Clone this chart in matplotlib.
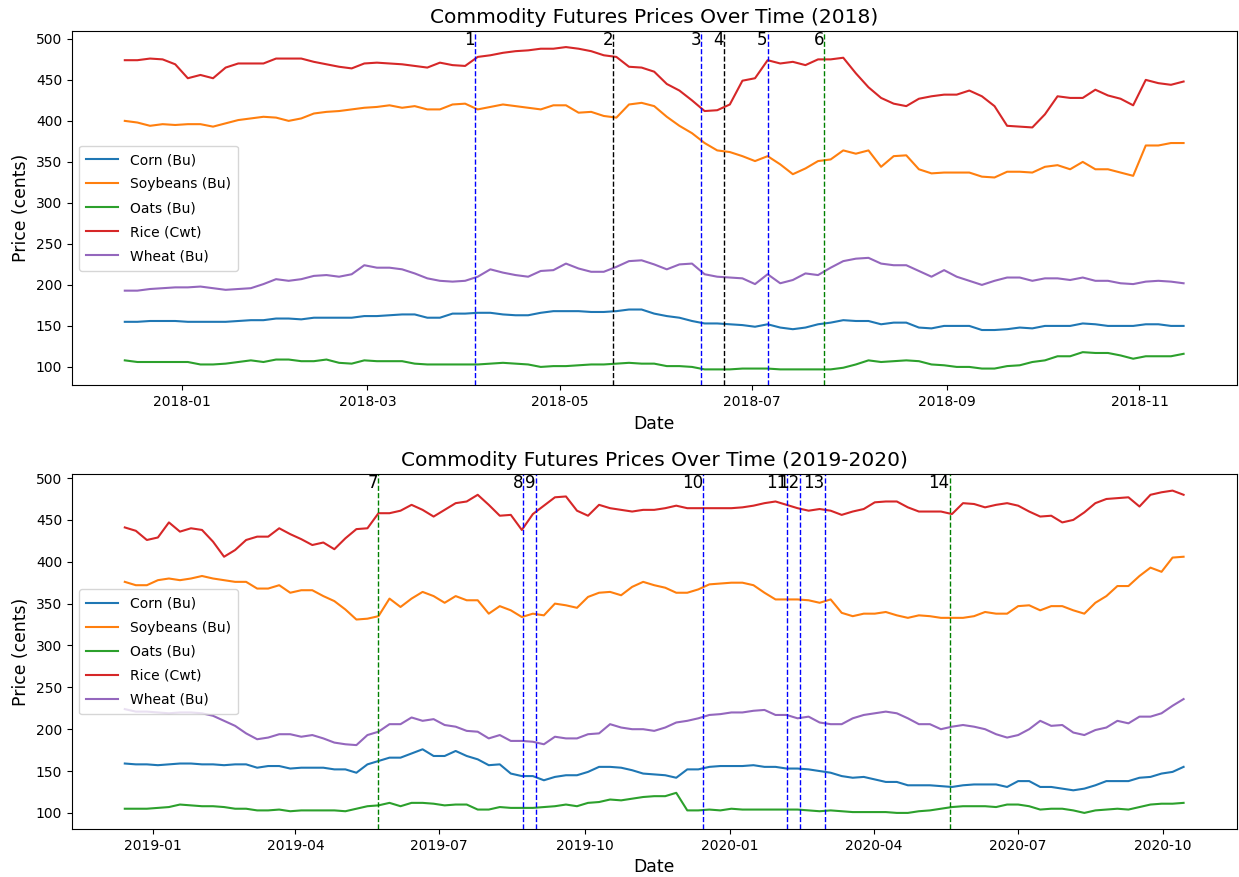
import matplotlib
matplotlib.use("Agg")
import matplotlib.pyplot as plt
import matplotlib.dates as mdates
import pandas as pd

# --- 2018 window: one reading every 4 days ---
dates_2018 = pd.date_range("2017-12-14", "2018-11-15", periods=85)

corn_2018 = [155, 155, 156, 156, 156, 155, 155, 155, 155, 156, 157, 157, 159, 159, 158, 160, 160, 160, 160, 162, 162,
             163, 164, 164, 160, 160, 165, 165, 166, 166, 164, 163, 163, 166, 168, 168, 168, 167, 167, 168, 170, 170,
             165, 162, 160, 156, 153, 153, 152, 151, 149, 152, 148, 146, 148, 152, 154, 157, 156, 156, 152, 154, 154,
             148, 147, 150, 150, 150, 145, 145, 146, 148, 147, 150, 150, 150, 153, 152, 150, 150, 150, 152, 152, 150,
             150]
soy_2018 = [400, 398, 394, 396, 395, 396, 396, 393, 397, 401, 403, 405, 404, 400, 403, 409, 411, 412, 414, 416, 417,
            419, 416, 418, 414, 414, 420, 421, 414, 417, 420, 418, 416, 414, 419, 419, 410, 411, 406, 404, 420, 422,
            418, 405, 394, 385, 373, 364, 362, 357, 351, 357, 347, 335, 342, 351, 353, 364, 360, 364, 344, 357, 358,
            341, 336, 337, 337, 337, 332, 331, 338, 338, 337, 344, 346, 341, 350, 341, 341, 337, 333, 370, 370, 373,
            373]
oats_2018 = [108, 106, 106, 106, 106, 106, 103, 103, 104, 106, 108, 106, 109, 109, 107, 107, 109, 105, 104, 108, 107,
             107, 107, 104, 103, 103, 103, 103, 103, 104, 105, 104, 103, 100, 101, 101, 102, 103, 103, 104, 105, 104,
             104, 101, 101, 100, 97, 97, 97, 98, 98, 98, 97, 97, 97, 97, 97, 99, 103, 108, 106, 107, 108, 107, 103,
             102, 100, 100, 98, 98, 101, 102, 106, 108, 113, 113, 118, 117, 117, 114, 110, 113, 113, 113, 116]
rice_2018 = [474, 474, 476, 475, 469, 452, 456, 452, 465, 470, 470, 470, 476, 476, 476, 472, 469, 466, 464, 470, 471,
             470, 469, 467, 465, 471, 468, 467, 478, 480, 483, 485, 486, 488, 488, 490, 488, 485, 480, 478, 466, 465,
             460, 445, 437, 425, 412, 413, 420, 449, 452, 474, 470, 472, 468, 475, 475, 477, 458, 441, 428, 421, 418,
             427, 430, 432, 432, 437, 430, 418, 394, 393, 392, 408, 430, 428, 428, 438, 431, 427, 419, 450, 446, 444,
             448]
wheat_2018 = [193, 193, 195, 196, 197, 197, 198, 196, 194, 195, 196, 201, 207, 205, 207, 211, 212, 210, 213, 224, 221,
              221, 219, 214, 208, 205, 204, 205, 210, 219, 215, 212, 210, 217, 218, 226, 220, 216, 216, 222, 229, 230,
              225, 219, 225, 226, 213, 210, 209, 208, 201, 213, 202, 206, 214, 212, 221, 229, 232, 233, 226, 224, 224,
              217, 210, 218, 210, 205, 200, 205, 209, 209, 205, 208, 208, 206, 209, 205, 205, 202, 201, 204, 205, 204,
              202]

# --- 2019-2020 window: roughly weekly readings ---
dates_1920 = pd.date_range("2018-12-14", "2020-10-14", periods=97)

corn_1920 = [159, 158, 158, 157, 158, 159, 159, 158, 158, 157, 158, 158, 154, 156, 156, 153, 154, 154, 154, 152, 152,
             148, 158, 162, 166, 166, 171, 176, 168, 168, 174, 168, 164, 157, 158, 147, 144, 144, 139, 143, 145, 145,
             149, 155, 155, 154, 151, 147, 146, 145, 142, 152, 152, 155, 156, 156, 156, 157, 155, 155, 153, 153, 152,
             150, 148, 144, 142, 143, 140, 137, 137, 133, 133, 133, 132, 131, 133, 134, 134, 134, 131, 138, 138, 131,
             131, 129, 127, 129, 133, 138, 138, 138, 142, 143, 147, 149, 155]
soy_1920 = [376, 372, 372, 378, 380, 378, 380, 383, 380, 378, 376, 376, 368, 368, 372, 363, 366, 366, 359, 353, 343,
            331, 332, 335, 356, 346, 356, 364, 359, 351, 359, 354, 354, 338, 347, 342, 334, 338, 336, 350, 348, 345,
            358, 363, 364, 360, 370, 376, 372, 369, 363, 363, 367, 373, 374, 375, 375, 372, 363, 355, 355, 355, 354,
            351, 355, 339, 335, 338, 338, 340, 336, 333, 336, 335, 333, 333, 333, 335, 340, 338, 338, 347, 348, 342,
            347, 347, 342, 338, 351, 359, 371, 371, 383, 393, 388, 405, 406]
oats_1920 = [105, 105, 105, 106, 107, 110, 109, 108, 108, 107, 105, 105, 103, 103, 104, 102, 103, 103, 103, 103, 102,
             105, 108, 109, 112, 108, 112, 112, 111, 109, 110, 110, 104, 104, 107, 106, 106, 106, 107, 108, 110, 108,
             112, 113, 116, 115, 117, 119, 120, 120, 124, 103, 103, 104, 103, 105, 104, 104, 104, 104, 104, 104, 103,
             102, 103, 102, 101, 101, 101, 101, 100, 100, 102, 103, 105, 107, 108, 108, 108, 107, 110, 110, 108, 104,
             105, 105, 103, 100, 103, 104, 105, 104, 107, 110, 111, 111, 112]
rice_1920 = [441, 437, 426, 429, 447, 436, 440, 438, 424, 406, 414, 426, 430, 430, 440, 433, 427, 420, 423, 415, 428,
             439, 440, 458, 458, 461, 468, 462, 454, 462, 470, 472, 480, 468, 455, 456, 438, 457, 467, 477, 478, 461,
             455, 468, 464, 462, 460, 462, 462, 464, 467, 464, 464, 464, 464, 464, 465, 467, 470, 472, 468, 464, 461,
             463, 461, 456, 460, 463, 471, 472, 472, 465, 460, 460, 460, 457, 470, 469, 465, 468, 470, 467, 460, 454,
             455, 447, 450, 459, 470, 475, 476, 477, 466, 480, 483, 485, 480]
wheat_1920 = [224, 221, 221, 220, 219, 220, 220, 219, 216, 210, 204, 195, 188, 190, 194, 194, 191, 193, 189, 184, 182,
              181, 193, 197, 206, 206, 214, 210, 212, 205, 203, 198, 197, 189, 193, 186, 186, 185, 182, 191, 189, 189,
              194, 195, 206, 202, 200, 200, 198, 202, 208, 210, 213, 217, 218, 220, 220, 222, 223, 217, 217, 213, 215,
              208, 206, 206, 213, 217, 219, 221, 219, 213, 206, 206, 200, 203, 205, 203, 200, 194, 190, 193, 200, 210,
              204, 205, 196, 193, 199, 202, 210, 207, 215, 215, 219, 228, 236]

series_names = ["Corn (Bu)", "Soybeans (Bu)", "Oats (Bu)", "Rice (Cwt)", "Wheat (Bu)"]

# numbered event markers: (date, colour)
events_2018 = [("2018-04-04", "b"), ("2018-05-18", "k"), ("2018-06-15", "b"),
               ("2018-06-22", "k"), ("2018-07-06", "b"), ("2018-07-24", "g")]
events_1920 = [("2019-05-23", "g"), ("2019-08-23", "b"), ("2019-08-31", "b"), ("2019-12-15", "b"),
               ("2020-02-06", "b"), ("2020-02-14", "b"), ("2020-03-01", "b"), ("2020-05-19", "g")]

fig, (ax1, ax2) = plt.subplots(2, 1, figsize=(12.39, 8.77), dpi=100)
fig.subplots_adjust(left=0.058, right=0.998, top=0.9647, bottom=0.0547, hspace=0.251)

panels = [
    (ax1, dates_2018, [corn_2018, soy_2018, oats_2018, rice_2018, wheat_2018], events_2018, 1,
     "Commodity Futures Prices Over Time (2018)", mdates.MonthLocator(bymonth=[1, 3, 5, 7, 9, 11])),
    (ax2, dates_1920, [corn_1920, soy_1920, oats_1920, rice_1920, wheat_1920], events_1920, 7,
     "Commodity Futures Prices Over Time (2019-2020)", mdates.MonthLocator(bymonth=[1, 4, 7, 10])),
]

for ax, dates, values, events, first_num, title, locator in panels:
    for name, vals in zip(series_names, values):
        ax.plot(dates, vals, label=name)
    ymax = ax.get_ylim()[1]
    for i, (day, col) in enumerate(events):
        d = pd.Timestamp(day)
        ax.axvline(d, color=col, linestyle="--", linewidth=1)
        ax.text(d, ymax, str(first_num + i), ha="right", va="top", fontsize=12)
    ax.set_title(title, fontsize=14.5)
    ax.set_xlabel("Date", fontsize=12.4)
    ax.set_ylabel("Price (cents)", fontsize=12.4)
    ax.xaxis.set_major_locator(locator)
    ax.xaxis.set_major_formatter(mdates.DateFormatter("%Y-%m"))
    ax.legend(loc="center left", handlelength=2.3, labelspacing=0.72, borderpad=0.55)

fig.savefig("out.png", dpi=100)
